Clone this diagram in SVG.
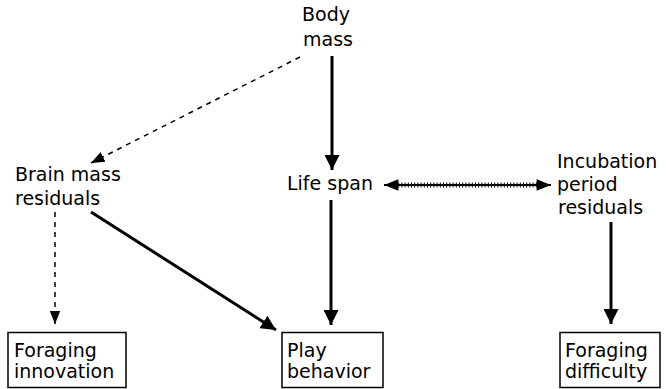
<svg xmlns="http://www.w3.org/2000/svg" width="666" height="389" viewBox="0 0 666 389">
<style>
text{font-family:"DejaVu Sans","Liberation Sans",sans-serif;font-size:19px;fill:#000}
.box{fill:#fff;stroke:#000;stroke-width:1.5}
.thick{stroke:#000;stroke-width:3;fill:none}
.dash{stroke:#000;stroke-width:1.5;fill:none;stroke-dasharray:5 5}
</style>
<defs>
<marker id="ah" viewBox="0 0 10 10" refX="10" refY="5" markerWidth="5" markerHeight="5" orient="auto" markerUnits="strokeWidth">
<path d="M0,0 L10,5 L0,10 z" fill="#000"/>
</marker>
<marker id="ahd" viewBox="0 0 10 10" refX="10" refY="5" markerWidth="9" markerHeight="9" orient="auto" markerUnits="strokeWidth">
<path d="M0,1 L10,5 L0,9 z" fill="#000"/>
</marker>
<marker id="ahs" viewBox="0 0 10 10" refX="10" refY="5" markerWidth="10" markerHeight="8" orient="auto-start-reverse" markerUnits="strokeWidth">
<path d="M0,1 L10,5 L0,9 z" fill="#000"/>
</marker>
</defs>
<g id="connectors">
<line class="thick" x1="332" y1="56" x2="332" y2="170" marker-end="url(#ah)"/>
<line class="dash" x1="300" y1="57" x2="91" y2="163" marker-end="url(#ahd)"/>
<line class="dash" x1="55" y1="212" x2="55" y2="324" marker-end="url(#ahd)"/>
<line class="thick" x1="91" y1="212" x2="276" y2="330" marker-end="url(#ah)"/>
<line class="thick" x1="331" y1="200" x2="331" y2="325" marker-end="url(#ah)"/>
<line class="thick" x1="611" y1="222" x2="611" y2="324" marker-end="url(#ah)"/>
<g>
<line x1="384" y1="185" x2="551" y2="185" stroke="#000" stroke-width="1.8" marker-start="url(#ahs)" marker-end="url(#ahs)"/>
<line x1="395" y1="185" x2="540" y2="185" stroke="#000" stroke-width="5" stroke-dasharray="1 2.2"/>
</g>
</g>
<g id="body-mass">
<text x="302" y="21">Body</text>
<text x="303" y="46">mass</text>
</g>
<g id="brain-mass-residuals">
<text x="15" y="181">Brain mass</text>
<text x="15" y="205">residuals</text>
</g>
<g id="life-span">
<text x="287" y="190">Life span</text>
</g>
<g id="incubation-period-residuals">
<text x="557" y="168">Incubation</text>
<text x="557" y="191">period</text>
<text x="558" y="214">residuals</text>
</g>
<g id="foraging-innovation">
<rect class="box" x="8" y="332.5" width="118" height="55"/>
<text x="14" y="357">Foraging</text>
<text x="14" y="378">innovation</text>
</g>
<g id="play-behavior">
<rect class="box" x="282" y="332.5" width="101" height="55"/>
<text x="287" y="357">Play</text>
<text x="287" y="378">behavior</text>
</g>
<g id="foraging-difficulty">
<rect class="box" x="560" y="332.5" width="100" height="55"/>
<text x="565" y="357">Foraging</text>
<text x="565" y="378">difficulty</text>
</g>
</svg>
